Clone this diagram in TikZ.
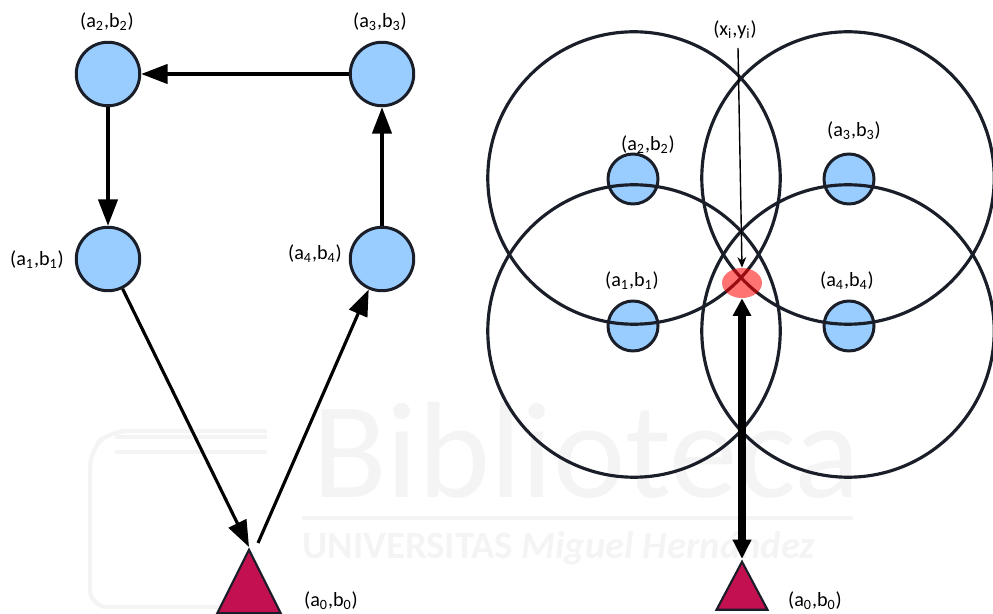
\documentclass[tikz,border=0pt]{standalone}
\usepackage{fontspec}
\setmainfont{Carlito}
\usetikzlibrary{positioning,arrows.meta,shapes.geometric}
\definecolor{anchorblue}{RGB}{153,204,255}
\definecolor{basecrimson}{RGB}{194,16,80}
\definecolor{edgedark}{RGB}{25,30,40}
\definecolor{markgray}{RGB}{244,244,244}
\newcommand{\anclbl}[2]{(#1\textsubscript{#2},b\textsubscript{#2})}

\begin{document}
\begin{tikzpicture}[
  x=0.02cm, y=-0.02cm,
  font=\fontsize{11.5}{13}\selectfont,
  anc/.style={circle, draw=edgedark, line width=1.7pt, fill=anchorblue,
              minimum size=1.27cm, inner sep=0pt},
  ancs/.style={anc, minimum size=1.0cm},
  rng/.style={circle, draw=edgedark, line width=1.8pt, minimum size=5.85cm,
              inner sep=0pt},
  base/.style={isosceles triangle, isosceles triangle stretches,
               shape border rotate=90, draw=edgedark, line width=1.2pt,
               fill=basecrimson, inner sep=0pt, anchor=apex},
  arr/.style={-{Triangle[length=15pt,width=11pt]}, line width=1.8pt, black},
  thinarr/.style={-{Stealth[length=6pt,width=5pt]}, line width=0.8pt, black},
  thickarr/.style={{Triangle[length=10pt,width=10pt]}-{Triangle[length=11pt,width=10pt]},
                   line width=4pt, black},
  wmark/.style={markgray, line width=2.5pt, rounded corners=10pt}
]
\useasboundingbox (0,0) rectangle (993,614);

%% Faint print behind the figure
\draw[wmark] (267,431) -- (110,431) -- (90,450) -- (90,607) -- (267,607);
\draw[wmark] (115,437) -- (267,437);
\draw[wmark] (115,452) -- (267,452);
\draw[wmark, rounded corners=0pt] (302,518) -- (853,518);
\node[anchor=base west, inner sep=0pt, text=markgray, font=\fontsize{78}{90}\selectfont]
  (wmTitle) at (312,497) {Biblioteca};
\node[anchor=base west, inner sep=0pt, text=markgray, font=\fontsize{22}{24}\selectfont\bfseries]
  (wmSub) at (302,558) {UNIVERSITAS \textit{Miguel Hernández}};

%% Left panel
\node[anc] (L2) at (108,74) {};
\node[anc] (L3) at (382,74) {};
\node[anc] (L1) at (108,259) {};
\node[anc] (L4) at (382,259) {};
\node[base, minimum width=1.27cm, minimum height=1.27cm] (L0) at (249,547) {};
\coordinate (L0out) at (258,543);

\node (lblL2) at (107,22) {\anclbl{a}{2}};
\node (lblL3) at (380,22) {\anclbl{a}{3}};
\node (lblL1) at (37,260) {\anclbl{a}{1}};
\node (lblL4) at (315,254) {\anclbl{a}{4}};
\node (lblL0) at (331,601) {\anclbl{a}{0}};

\draw[arr] (L3) -- (L2);
\draw[arr] (L2) -- (L1);
\draw[arr] (L4) -- (L3);
\draw[arr] (L1) -- (L0.apex);
\draw[arr] (L0out) -- (L4);

%% Right panel
\node[ancs] (R2) at (633,179) {};
\node[ancs] (R3) at (849,179) {};
\node[ancs] (R1) at (633,326) {};
\node[ancs] (R4) at (849,326) {};

\node[rng] (C2) at (634,178) {};
\node[rng] (C3) at (848,178) {};
\node[rng] (C1) at (634,331) {};
\node[rng] (C4) at (848,331) {};

\node[base, minimum width=1.02cm, minimum height=0.96cm] (R0) at (742,559) {};
\node[ellipse, fill=red, fill opacity=0.55, minimum width=0.8cm, minimum height=0.6cm,
      inner sep=0pt] (est) at (742,283) {};
\coordinate (estTop) at (738,48);

\node (lblR2) at (648,145) {\anclbl{a}{2}};
\node (lblR3) at (854,131) {\anclbl{a}{3}};
\node (lblR1) at (632,281) {\anclbl{a}{1}};
\node (lblR4) at (847,281) {\anclbl{a}{4}};
\node (lblR0) at (815,601) {\anclbl{a}{0}};
\node (lblEst) at (735,30) {(x\textsubscript{i},y\textsubscript{i})};

\draw[thinarr] (estTop) -- (est.north);
\draw[thickarr] (est.south) -- (R0.apex);

\end{tikzpicture}
\end{document}
